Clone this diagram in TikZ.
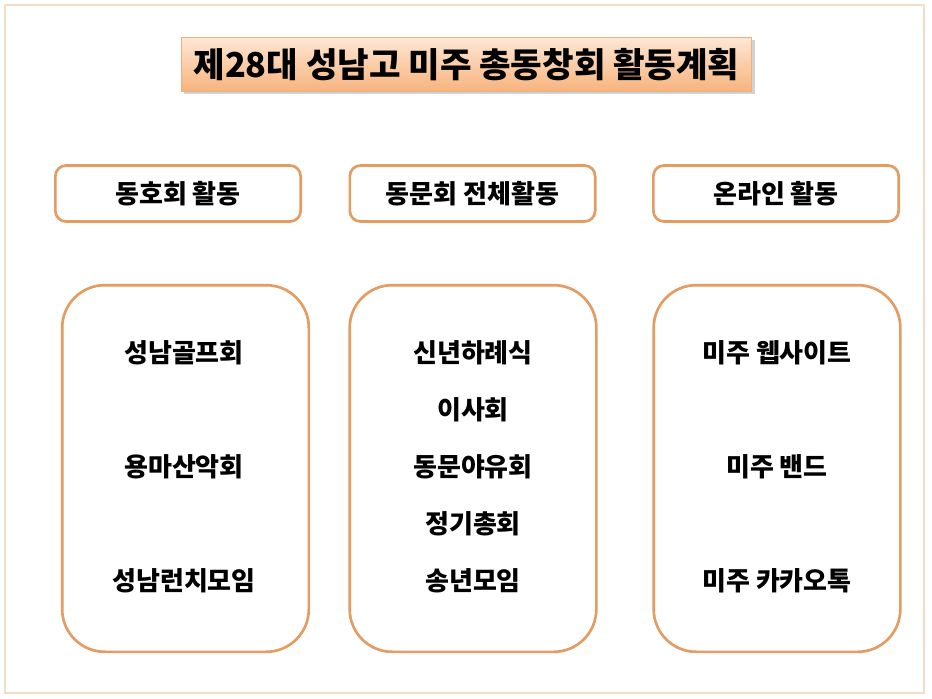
\documentclass[tikz,border=0pt]{standalone}
\usepackage{fontspec}
\usepackage{tikz}
\usetikzlibrary{positioning, shadows}
\newfontfamily\kr{Noto Sans CJK KR}
\definecolor{framecol}{HTML}{F2DDC9}
\definecolor{boxline}{HTML}{E39C62}
\definecolor{titletop}{HTML}{FDE8D5}
\definecolor{titlebot}{HTML}{F8B27C}
\tikzstyle{title box}=[draw=boxline!80, line width=0.6pt, top color=titletop, bottom color=titlebot, minimum width=428pt, minimum height=41pt, drop shadow={shadow xshift=2pt, shadow yshift=-2pt, fill=black!35}]
\tikzstyle{head box}=[draw=boxline, line width=2pt, rounded corners=8pt, fill=white, minimum width=184pt, minimum height=42pt]
\tikzstyle{list box}=[draw=boxline, line width=2pt, rounded corners=32pt, fill=white, minimum width=185pt, minimum height=275pt]
\tikzstyle{item}=[font=\kr\bfseries\fontsize{19.5}{22}\selectfont, inner sep=0pt]

\begin{document}
\begin{tikzpicture}[x=0.75pt, y=-0.75pt]
		\useasboundingbox (0,0) rectangle (932,699);
		% Outer frame
		\draw[framecol, line width=2.2pt] (5,5) rectangle (924,693);

		% Title
		\node[title box, font=\kr\bfseries\fontsize{25.7}{30}\selectfont] (title) at (466.5,64.5) {제28대 성남고 미주 총동창회 활동계획};

		% Column headings and lists
		\foreach \name / \x / \bx / \label in {club/178/185.5/동호회 활동, all/472.5/473/동문회 전체활동, web/776/777/온라인 활동}
		{
		\node[head box, item] (H-\name) at (\x,193.5) {\label};
		\node[list box] (L-\name) at (\bx,468.5) {};
		}

		% Club activities
		\foreach \y / \label in {353/성남골프회, 467/용마산악회, 581/성남런치모임}
		\node[item] (club-\y) at (184,\y) {\label};

		% Whole alumni activities
		\foreach \y / \label in {353/신년하례식, 410/이사회, 467/동문야유회, 524/정기총회, 581/송년모임}
		\node[item] (all-\y) at (473,\y) {\label};

		% Online activities
		\foreach \y / \label in {353/미주 웹사이트, 467/미주 밴드, 581/미주 카카오톡}
		\node[item] (web-\y) at (777,\y) {\label};
	\end{tikzpicture}
\end{document}
